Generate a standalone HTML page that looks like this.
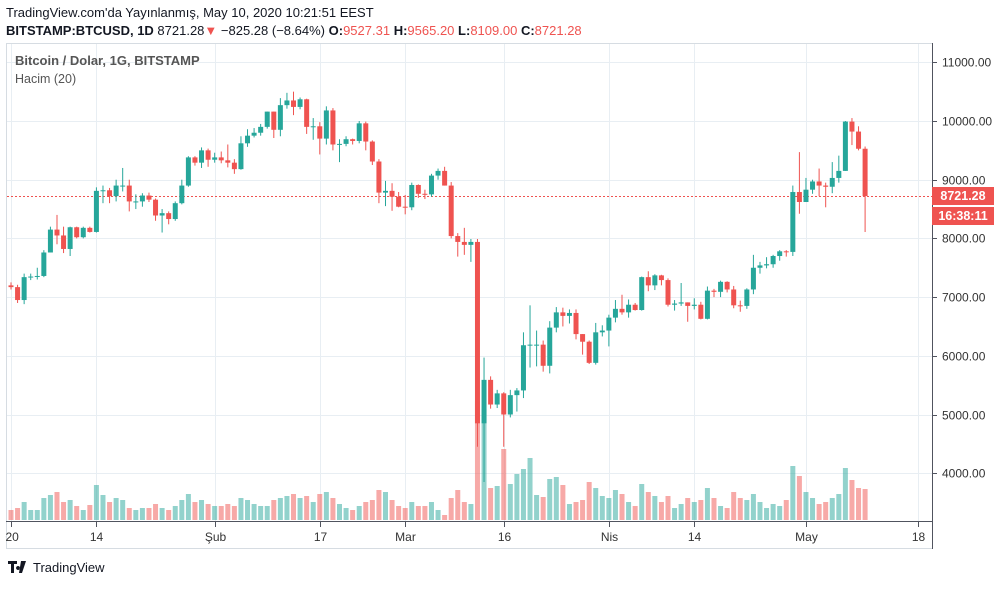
<!DOCTYPE html>
<html><head><meta charset="utf-8">
<style>
body{margin:0;background:#fff;width:1006px;height:586px;overflow:hidden;font-family:"Liberation Sans",sans-serif;}
svg text{font-family:"Liberation Sans",sans-serif;}
</style></head>
<body>
<svg id="chart" width="1006" height="586" xmlns="http://www.w3.org/2000/svg">
<defs><clipPath id="tclip"><rect x="5" y="520" width="930" height="30"/></clipPath></defs>
<text x="6" y="17" font-size="13" fill="#131722">TradingView.com'da Yayınlanmış, May 10, 2020 10:21:51 EEST</text>
<text x="6" y="35" font-size="13" fill="#131722"><tspan font-weight="bold">BITSTAMP:BTCUSD, 1D</tspan> 8721.28<tspan fill="#ef5350">▼</tspan> −825.28 (−8.64%) <tspan font-weight="bold">O:</tspan><tspan fill="#ef5350">9527.31</tspan> <tspan font-weight="bold">H:</tspan><tspan fill="#ef5350">9565.20</tspan> <tspan font-weight="bold">L:</tspan><tspan fill="#ef5350">8109.00</tspan> <tspan font-weight="bold">C:</tspan><tspan fill="#ef5350">8721.28</tspan></text>
<rect x="6.5" y="43.5" width="926" height="505" fill="none" stroke="#d6dce2"/>
<g id="grid"></g>
<g id="vol"></g>
<g id="candles"></g>
<g id="axes"></g>
<line x1="932.5" y1="43" x2="932.5" y2="549" stroke="#50535e"/>
<line x1="6" y1="521.5" x2="932" y2="521.5" stroke="#50535e"/>
<text x="15" y="65" font-size="13" font-weight="bold" fill="#555">Bitcoin / Dolar, 1G, BITSTAMP</text>
<text x="15" y="83" font-size="12.5" fill="#555">Hacim (20)</text>
<g>
<rect x="932" y="187" width="62" height="18" fill="#ef5350"/>
<text x="963" y="200" font-size="12.5" font-weight="bold" fill="#fff" text-anchor="middle">8721.28</text>
<rect x="932" y="207" width="62" height="18" fill="#ef5350"/>
<text x="963" y="220" font-size="12.5" font-weight="bold" fill="#fff" text-anchor="middle">16:38:11</text>
</g>
<g>
<path d="M8 561h9v3h-3v9h-3v-9h-3z M18 566a2 2 0 1 0 0.1 0z M21 561h5l-4 12h-3z" fill="#131722"/>
<text x="33" y="572" font-size="13" fill="#131722">TradingView</text>
</g>
</svg>
<script>
const openP=[7200,7170,6950,7340,7350,7360,7760,8150,8050,7820,8190,8020,8180,8110,8810,8820,8720,8900,8900,8630,8630,8730,8660,8390,8430,8330,8600,8900,9380,9290,9500,
9340,9380,9330,9290,9180,9620,9750,9800,9900,10160,9850,10270,10350,10240,10370,9900,9910,9700,10180,9600,9610,9690,9660,9960,9650,9310,8780,8810,8710,
8540,8530,8910,8760,8750,9070,9150,8900,8040,7940,7890,7940,4850,5590,5170,5360,5000,5330,5410,6180,6190,6190,5830,6480,6740,6680,6730,6370,6240,5880,6400,
6430,6650,6800,6740,6870,6780,7340,7200,7370,7290,6870,6890,6910,6850,6870,6630,7110,7090,7260,7130,6860,6850,7130,7500,7540,7560,7700,7780,7770,8790,
8620,8830,8970,8900,8880,9030,9150,9990,9820,9527.31];
const highP=[7250,7210,7400,7400,7500,7800,8200,8400,8200,8200,8200,8200,8200,8870,8900,8860,9000,9200,9000,8750,8770,8780,8680,8500,8460,8630,9000,9400,9400,9550,9530,
9460,9480,9600,9350,9740,9860,9880,9950,10160,10140,10390,10480,10500,10400,10380,10050,9980,10250,10220,9690,9740,9700,10000,9990,9670,9350,8980,8940,8790,
8740,8950,8920,8830,9100,9190,9220,8960,8090,8180,7990,7990,5970,5650,5420,5380,5420,5450,6400,6860,6430,6260,6590,6830,6820,6790,6790,6370,6260,6560,6520,
6700,6950,7040,6960,6900,7350,7440,7390,7380,7320,6950,7240,6910,6980,6920,7180,7140,7280,7270,7190,6940,7150,7720,7600,7680,7720,7800,7800,8900,9470,
9030,9000,9190,8950,9300,9410,10000,10050,9910,9565.2];
const lowP=[7130,6900,6880,7290,7300,7340,7760,7900,7750,7700,8000,8000,8100,8100,8600,8600,8630,8800,8460,8500,8540,8620,8300,8100,8240,8300,8580,8880,9240,9200,9220,
9290,9280,9210,9100,9170,9560,9720,9750,9870,9710,9740,10210,10100,10200,9780,9680,9430,9600,9500,9300,9570,9600,9620,9500,9250,8600,8550,8470,8530,
8410,8480,8690,8670,8710,9000,8900,8000,7690,7720,7600,4450,3850,5100,5110,4450,4950,5050,5280,5800,5820,5730,5700,6400,6500,6550,6280,6020,5860,5850,6330,
6160,6570,6700,6650,6770,6770,7100,7120,7200,6840,6770,6850,6580,6790,6620,6620,7000,7000,7080,6810,6750,6800,7050,7400,7490,7500,7620,7690,7700,8420,
8630,8760,8720,8530,8770,8950,9150,9590,9500,8109];
const closeP=[7170,6950,7340,7350,7360,7760,8150,8050,7820,8190,8020,8180,8110,8810,8820,8720,8900,8900,8630,8630,8730,8660,8390,8430,8330,8600,8900,9380,9290,9500,9340,
9380,9330,9290,9180,9620,9750,9800,9900,10160,9850,10270,10350,10240,10370,9900,9910,9700,10180,9600,9610,9690,9660,9960,9650,9310,8780,8810,8710,8540,
8530,8910,8760,8750,9070,9150,8900,8040,7940,7890,7940,4850,5590,5170,5360,5000,5330,5410,6180,6190,6190,5830,6480,6740,6680,6730,6370,6240,5880,6400,6430,
6650,6800,6740,6870,6780,7340,7200,7370,7290,6870,6890,6910,6850,6870,6630,7110,7090,7260,7130,6860,6850,7130,7500,7540,7560,7700,7780,7770,8790,8620,
8830,8970,8900,8880,9030,9150,9990,9820,9527.31,8721.28];
const volumes=[10,12,18,10,10,22,25,28,18,20,14,10,15,35,25,18,22,20,12,10,12,12,16,12,10,14,20,26,18,20,16,
14,14,16,14,22,20,16,14,14,20,22,24,26,22,24,18,26,28,22,16,12,10,14,18,20,30,28,20,14,
12,18,14,14,18,10,5,22,30,18,16,119,111,32,34,71,36,46,51,62,25,23,41,43,35,16,18,20,38,32,24,
22,30,26,18,14,36,28,24,18,24,12,16,22,18,20,32,22,14,12,28,22,20,26,18,12,16,14,20,54,44,
28,22,16,18,22,26,52,40,32,31];
const priceTicks=[4000,5000,6000,7000,8000,9000,10000,11000];
const timeLabels=["2020","14","Şub","17","Mar","16","Nis","14","May","18"];
const timeLabelDays=[0,13,31,47,60,75,91,104,121,138];
const lastPrice=8721.28;

const NS="http://www.w3.org/2000/svg";
const xOf=d=>11+d*6.57;
const yOf=p=>121+(10000-p)*0.0587;
const vY=v=>520-v;
function mk(tag,attrs,parent){const e=document.createElementNS(NS,tag);for(const k in attrs)e.setAttribute(k,attrs[k]);parent.appendChild(e);return e;}
const grid=document.getElementById('grid'),vol=document.getElementById('vol'),cg=document.getElementById('candles'),ax=document.getElementById('axes');
priceTicks.forEach(p=>{
  const y=Math.round(yOf(p))+0.5;
  const l=mk('line',{x1:7,x2:932,y1:y,y2:y,stroke:'#e8eef3'},grid);
  
  
  const t=mk('text',{x:942,y:y+4,'font-size':12,fill:'#333'},ax);
  
  
  t.textContent=p.toFixed(2);
  mk('line',{x1:932,x2:937,y1:y,y2:y,stroke:'#50535e'},ax);
});
timeLabels.forEach((s,i)=>{
  const x=Math.round(xOf(timeLabelDays[i]))+0.5;
  const l=mk('line',{x1:x,x2:x,y1:44,y2:521,stroke:'#e8eef3'},grid);
  
  
  const t=mk('text',{x:i===0?x-6:x,y:541,'font-size':12,fill:'#333','text-anchor':'middle','clip-path':'url(#tclip)'},ax);
  
  
  t.textContent=s;
  mk('line',{x1:x,x2:x,y1:522,y2:527,stroke:'#50535e'},ax);
});
const ly=Math.round(yOf(lastPrice))+0.5;
const dl=mk('line',{x1:7,x2:932,y1:ly,y2:ly,stroke:'#ef5350','stroke-dasharray':'2,2'},grid);


closeP.forEach((c,i)=>{
  const o=openP[i],up=c>=o,col=up?'#26a69a':'#ef5350';
  const x=xOf(i);
  const vb=mk('rect',{x:x-2.5,y:vY(volumes[i]),width:5,height:volumes[i],fill:up?'rgba(38,166,154,0.5)':'rgba(239,83,80,0.5)'},vol);
  
  
  const h=Math.max(highP[i],o,c),l=Math.min(lowP[i],o,c);
  const w=mk('line',{x1:x,x2:x,y1:yOf(h),y2:yOf(l),stroke:col,'stroke-width':1},cg);
  
  
  const top=yOf(Math.max(o,c)),bh=Math.max(1,yOf(Math.min(o,c))-top);
  const b=mk('rect',{x:x-2.5,y:top,width:5,height:bh,fill:col},cg);
  
  
});
</script>
</body></html>
